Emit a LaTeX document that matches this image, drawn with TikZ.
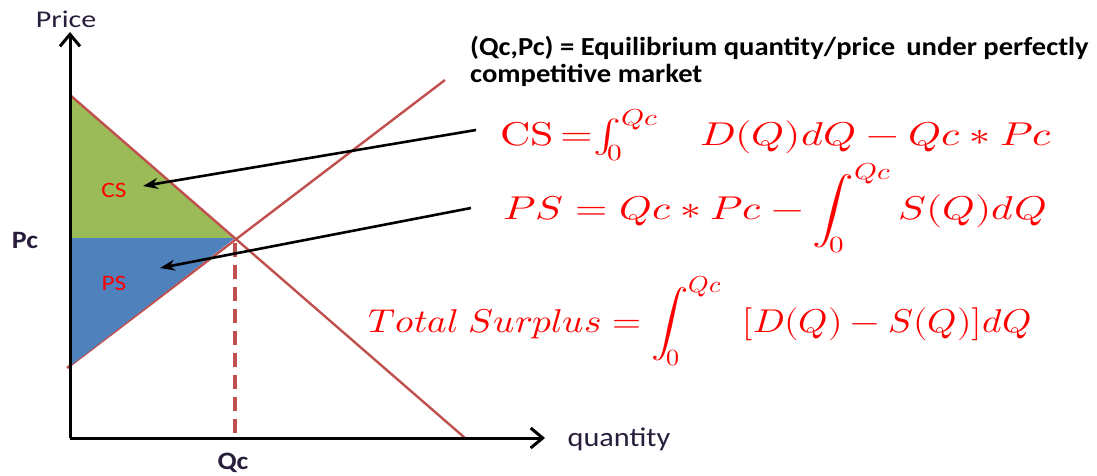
\documentclass[tikz,border=0pt]{standalone}
\usepackage{fontspec}
\usepackage{unicode-math}
\setmainfont{Carlito}
\setmathfont{Latin Modern Math}
\usetikzlibrary{arrows.meta}
\definecolor{linered}{RGB}{192,80,77}
\definecolor{csgreen}{RGB}{155,187,89}
\definecolor{psblue}{RGB}{79,129,189}
\definecolor{txtred}{RGB}{255,0,0}
\definecolor{axtxt}{RGB}{40,30,60}
\newcommand{\wide}[2]{\scalebox{#1}[1]{#2}}
\begin{document}
\begin{tikzpicture}[x=1pt,y=-1pt,
  axis/.style={line width=3pt,-{Straight Barb[length=12pt,width=20pt,line width=3pt]}},
  curve/.style={linered,line width=2.4pt},
  pointer/.style={line width=2.6pt,-{Stealth[length=15pt,width=11pt]}},
  axlabel/.style={font=\fontsize{24}{26}\selectfont,text=axtxt,inner sep=0pt},
  boldlabel/.style={font=\bfseries\fontsize{25}{27}\selectfont,text=axtxt,inner sep=0pt},
  arealabel/.style={font=\fontsize{22}{24}\selectfont,text=txtred,inner sep=0pt},
  formula/.style={text=txtred,inner sep=0pt,anchor=base west,font=\fontsize{33}{36}\selectfont}]
\useasboundingbox (0,0) rectangle (1097,476);
% key points
\coordinate (O) at (70,438);
\coordinate (Ytop) at (70,32);
\coordinate (Xend) at (545,438);
\coordinate (D1) at (70,95);
\coordinate (D2) at (465,438);
\coordinate (S1) at (67,368);
\coordinate (S2) at (445,80);
\coordinate (E) at (235,238);
\coordinate (PcA) at (70,238);
\coordinate (PsA) at (70,366);
\coordinate (QcA) at (235,438);
% supply line under the fills
\draw[curve] (S1) -- (S2);
% areas
\fill[csgreen] (D1) -- (PcA) -- (E) -- cycle;
\fill[psblue] (PcA) -- (E) -- (PsA) -- cycle;
% demand and Qc
\draw[curve] (D1) -- (D2);
\draw[curve,line width=3.5pt,dash pattern=on 14pt off 8pt] ([yshift=-5pt]E) -- (QcA);
% axes
\draw[axis] (O) -- (Ytop);
\draw[axis] (O) -- (Xend);
% axis labels
\node[axlabel] (price) at (66,19) {\wide{1.25}{Price}};
\node[axlabel,font=\fontsize{27}{29}\selectfont] (qty) at (619,439) {\wide{1.12}{quantity}};
\node[boldlabel] (pc) at (25,240) {\wide{1.12}{Pc}};
\node[boldlabel] (qc) at (233,463) {\wide{1.12}{Qc}};
% area labels
\node[arealabel] (cs) at (114,190) {\wide{1.15}{CS}};
\node[arealabel] (ps) at (114,283) {\wide{1.15}{PS}};
% definition text
\node[anchor=north west,inner sep=0pt,align=left,font=\bfseries\fontsize{26}{27}\selectfont] (def) at (470,36)
  {\wide{1.1}{(Qc,Pc) = Equilibrium quantity/price\, under perfectly}\\\wide{1.1}{competitive market}};
% formulas
\node[formula] (fcs) at (500,146) {\wide{1.27}{$\symup{CS}\,{=}\!\int_0^{Qc}\;\;\; D(Q)dQ - Qc * Pc$}};
\node[formula] (fps) at (503,219) {\wide{1.26}{$PS = Qc * Pc - \displaystyle\int_0^{Qc} S(Q)dQ$}};
\node[formula] (fts) at (368,332) {\wide{1.13}{$Total\;Surplus = \displaystyle\int_0^{Qc}\;\; [D(Q) - S(Q)]dQ$}};
% pointers
\coordinate (a1s) at (476,130);
\coordinate (a1e) at (143,186);
\coordinate (a2s) at (471,208);
\coordinate (a2e) at (160,268);
\draw[pointer] (a1s) -- (a1e);
\draw[pointer] (a2s) -- (a2e);
\end{tikzpicture}
\end{document}
